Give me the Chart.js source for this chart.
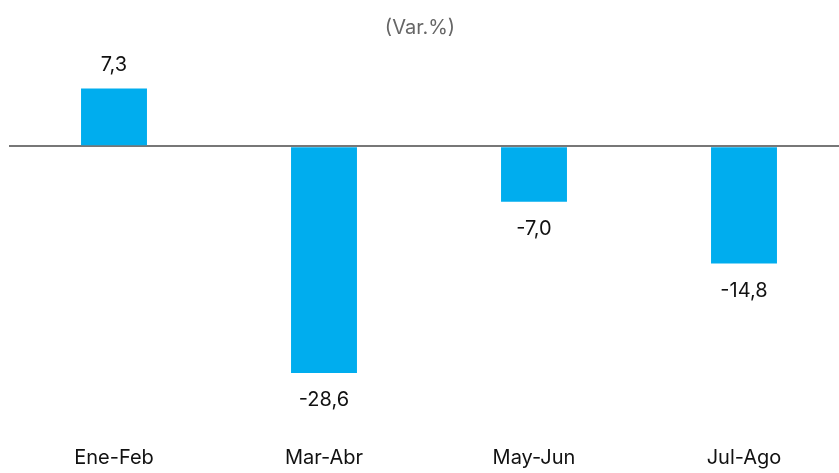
<!DOCTYPE html>
<html><head><meta charset="utf-8">
<script src="https://cdn.jsdelivr.net/npm/chart.js@4/dist/chart.umd.min.js"></script>
<style>html,body{margin:0;padding:0;background:#fff;overflow:hidden}#wrap{width:839px;height:473px}</style>
</head><body><div id="wrap"><canvas id="c" width="839" height="473"></canvas></div>
<script>
const categories = ["Ene-Feb","Mar-Abr","May-Jun","Jul-Ago"];
const values = [7.3, -28.6, -7.0, -14.8];
const labels = ["7,3","-28,6","-7,0","-14,8"];
const FONT = "Inter, 'Open Sans', sans-serif";

const extendRight = {
  id: 'extendRight',
  afterLayout(chart) {
    const x = chart.scales.x;
    x.right = 849; x.width = x.right - x.left;
    x.configure();
    chart.chartArea.right = 849;
    chart.chartArea.width = 849 - chart.chartArea.left;
    if (chart.titleBlock) { chart.titleBlock.left = 1; chart.titleBlock.right = 839; }
  }
};

const valueLabels = {
  id: 'valueLabels',
  afterDatasetsDraw(chart) {
    const ctx = chart.ctx;
    const meta = chart.getDatasetMeta(0);
    ctx.save();
    ctx.font = "20px " + FONT;
    ctx.fillStyle = "#111";
    ctx.textAlign = "center";
    ctx.textBaseline = "middle";
    meta.data.forEach((bar, i) => {
      const v = values[i];
      const y = v >= 0 ? bar.y - 23 : bar.y + 27;
      ctx.fillText(labels[i], bar.x, y);
    });
    ctx.restore();
  }
};

new Chart(document.getElementById('c'), {
  type: 'bar',
  data: { labels: categories, datasets: [{ data: values, backgroundColor: '#00ADEE', borderWidth: 0, categoryPercentage: 1, barPercentage: 0.314 }] },
  options: {
    responsive: false,
    animation: false,
    layout: { padding: { left: 9, right: 0, top: 0, bottom: 0 } },
    plugins: {
      legend: { display: false },
      tooltip: { enabled: false },
      title: { display: true, text: '(Var.%)', color: '#666', font: { family: FONT, size: 20, weight: 'normal' }, padding: { top: 16, bottom: 27 } }
    },
    scales: {
      x: {
        grid: { display: false, drawTicks: false },
        border: { display: false },
        afterFit(s) { s.height = 89; },
        ticks: { color: '#111', font: { family: FONT, size: 20 }, padding: 62, maxRotation: 0 }
      },
      y: {
        display: true,
        min: -30, max: 10,
        afterFit(s) { s.width = 0; },
        ticks: { display: false, stepSize: 10 },
        border: { display: false },
        grid: {
          drawTicks: false,
          color: (c) => c.tick && c.tick.value === 0 ? '#777' : 'rgba(0,0,0,0)',
          lineWidth: (c) => c.tick && c.tick.value === 0 ? 2 : 0
        }
      }
    }
  },
  plugins: [extendRight, valueLabels]
});
</script></body></html>
